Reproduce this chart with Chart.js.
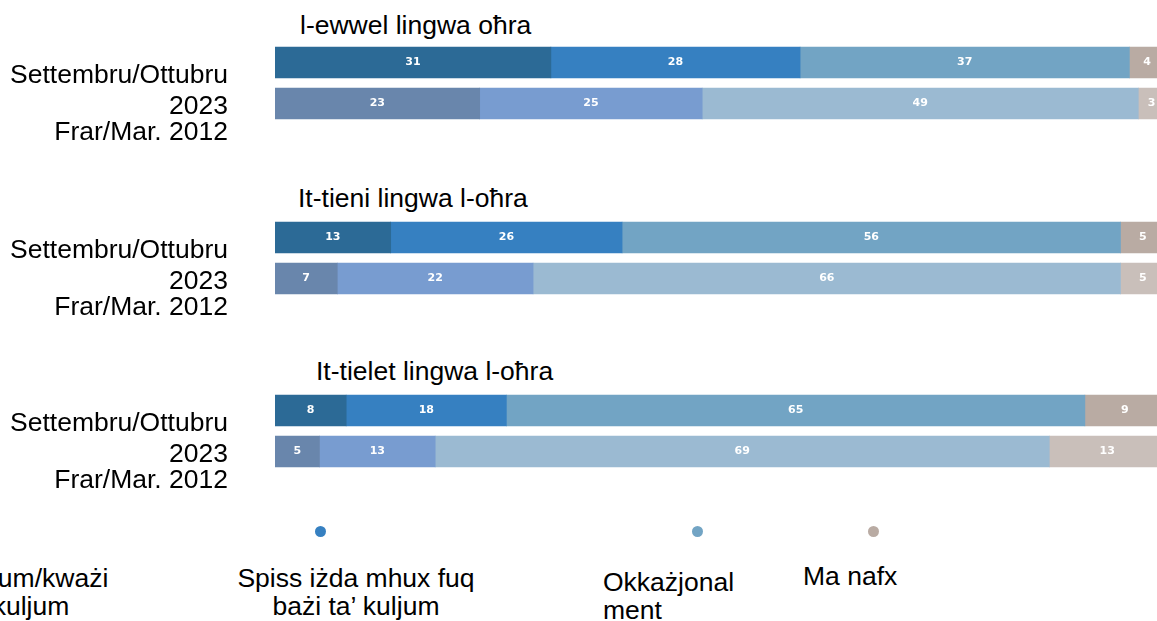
<!DOCTYPE html>
<html>
<head>
<meta charset="utf-8">
<script src="https://cdn.jsdelivr.net/npm/chart.js@4.4.1/dist/chart.umd.min.js"></script>
<style>
  html, body { margin: 0; padding: 0; background: #fff; overflow: hidden; }
  #wrap { position: relative; width: 1157px; height: 621px; overflow: hidden;
          font-family: "Liberation Sans", Arial, sans-serif; color: #000; }
  .panel { position: absolute; left: 0; width: 1165px; height: 130px; }
  .title { position: absolute; font-size: 26.5px; line-height: 1; white-space: nowrap; }
  .leg { position: absolute; font-size: 26.5px; line-height: 28px; white-space: nowrap; }
  .dot { position: absolute; width: 11px; height: 11px; border-radius: 50%; }
</style>
</head>
<body>
<div id="wrap">
  <div class="title" id="t0" style="left:300px; top:12px;"></div>
  <div class="title" id="t1" style="left:298px; top:185px;"></div>
  <div class="title" id="t2" style="left:316px; top:358px;"></div>

  <div class="panel" style="top:32px;"><canvas id="c0" width="1165" height="130"></canvas></div>
  <div class="panel" style="top:207px;"><canvas id="c1" width="1165" height="130"></canvas></div>
  <div class="panel" style="top:380px;"><canvas id="c2" width="1165" height="130"></canvas></div>

  <div class="dot" id="d1" style="left:315px; top:526px;"></div>
  <div class="dot" id="d2" style="left:692px; top:526px;"></div>
  <div class="dot" id="d3" style="left:868px; top:526px;"></div>

  <div class="leg" style="left:-169px; top:564px; width:400px; text-align:center;">Kuljum/kważi<br>kuljum</div>
  <div class="leg" style="left:156px; top:564px; width:400px; text-align:center;">Spiss iżda mhux fuq<br>bażi ta’ kuljum</div>
  <div class="leg" style="left:603px; top:568px;">Okkażjonal<br>ment</div>
  <div class="leg" style="left:803px; top:562px;">Ma nafx</div>
</div>

<script>
// data
const groups = ['l-ewwel lingwa oħra', 'It-tieni lingwa l-oħra', 'It-tielet lingwa l-oħra'];
const periods = [['Settembru/Ottubru', '2023'], 'Frar/Mar. 2012'];
const seriesNames = ['Kuljum/kważi kuljum', 'Spiss iżda mhux fuq bażi ta’ kuljum', 'Okkażjonalment', 'Ma nafx'];

// each entry: [2023, 2012] for one group
const daily      = [[31, 23], [13, 7], [8, 5]];
const often      = [[28, 25], [26, 22], [18, 13]];
const occasional = [[37, 49], [56, 66], [65, 69]];
const dontKnow   = [[4, 3], [5, 5], [9, 13]];
const series = [daily, often, occasional, dontKnow];

const colors2023 = ['#2c6a96', '#3680c1', '#72a4c4', '#b9aba3'];
const colors2012 = ['#6986ac', '#789cd0', '#9bbad2', '#c9bfba'];

document.getElementById('d1').style.background = colors2023[1];
document.getElementById('d2').style.background = colors2023[2];
document.getElementById('d3').style.background = colors2023[3];

// white numbers in the middle of each segment
const valueLabels = {
  id: 'valueLabels',
  afterDatasetsDraw(chart) {
    const ctx = chart.ctx;
    ctx.save();
    ctx.font = 'bold 11px "DejaVu Sans", "Open Sans", sans-serif';
    ctx.fillStyle = '#ffffff';
    ctx.textAlign = 'center';
    ctx.textBaseline = 'middle';
    chart.data.datasets.forEach((ds, i) => {
      chart.getDatasetMeta(i).data.forEach((bar, j) => {
        const p = bar.getCenterPoint();
        ctx.fillText(ds.data[j], p.x, p.y);
      });
    });
    ctx.restore();
  }
};

groups.forEach((name, g) => {
  document.getElementById('t' + g).textContent = name;

  new Chart(document.getElementById('c' + g), {
    type: 'bar',
    data: {
      labels: periods,
      datasets: series.map((s, k) => ({
        label: seriesNames[k],
        data: s[g],
        backgroundColor: [colors2023[k], colors2012[k]],
        borderWidth: 0,
        barThickness: 31
      }))
    },
    options: {
      indexAxis: 'y',
      responsive: false,
      animation: false,
      layout: { padding: { top: 10, bottom: 38, left: 0, right: 0 } },
      plugins: {
        legend: { display: false },
        tooltip: { enabled: false }
      },
      scales: {
        x: { stacked: true, display: false, min: 0, max: 100 },
        y: {
          stacked: true,
          grid: { display: false, drawTicks: false },
          border: { display: false },
          ticks: {
            color: '#000',
            autoSkip: false,
            padding: 47,
            labelOffset: 29,
            font: { family: '"Liberation Sans", Arial, sans-serif', size: 26.5, lineHeight: 31 / 26.5 }
          },
          afterFit(scale) {
            scale.width = 275;
            scale.paddingTop = 0;
            scale.paddingBottom = 0;
          }
        }
      }
    },
    plugins: [valueLabels]
  });
});
</script>
</body>
</html>
